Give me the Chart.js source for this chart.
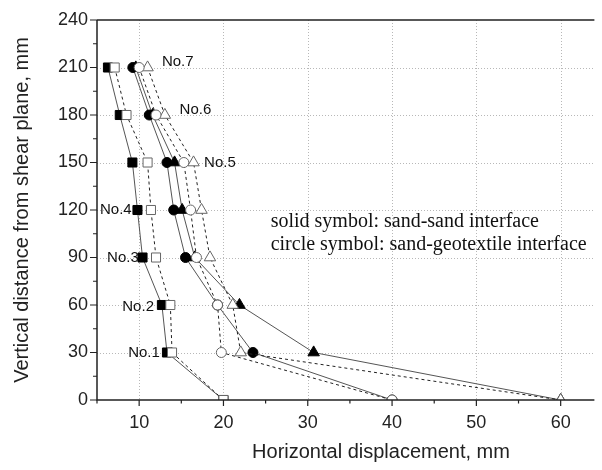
<!DOCTYPE html>
<html><head><meta charset="utf-8">
<script src="https://cdn.jsdelivr.net/npm/chart.js@4/dist/chart.umd.min.js"></script>
<style>html,body{margin:0;padding:0;background:#fff;}</style>
</head><body>
<canvas id="c" width="602" height="470"></canvas>
<script>
// ---- data ----
const yLevels = [210, 180, 150, 120, 90, 60, 30, 0];
const solidSquare   = [6.3, 7.7, 9.2, 9.8, 10.4, 12.7, 13.3, 20];
const openSquare    = [7.1, 8.5, 11.0, 11.4, 12.0, 13.7, 13.9, 20];
const solidCircle   = [9.25, 11.2, 13.3, 14.1, 15.5, 19.3, 23.5, 40];
const openCircle    = [10.0, 12.0, 15.3, 16.1, 16.8, 19.3, 19.75, 40];
const solidTriangle = [9.6, 11.6, 14.2, 15.1, 16.6, 21.9, 30.7, 60];
const openTriangle  = [11.0, 13.05, 16.45, 17.4, 18.4, 21.1, 22.05, 60];
const xTickLabels = [10, 20, 30, 40, 50, 60];
const yTickLabels = [0, 30, 60, 90, 120, 150, 180, 210, 240];
const xMinorTicks = [5, 15, 25, 35, 45, 55];
const yMinorTicks = [15, 45, 75, 105, 135, 165, 195, 225];
const specimenNames = ['No.1', 'No.2', 'No.3', 'No.4', 'No.5', 'No.6', 'No.7'];
const specimenLabelX = [8.7, 8.0, 6.2, 5.35, 17.7, 14.8, 12.7];
const specimenLabelY = [29.7, 59, 90, 120, 150, 183, 213.5];
const noteLines = ['solid symbol: sand-sand interface', 'circle symbol: sand-geotextile interface'];
const xTitle = 'Horizontal displacement, mm';
const yTitle = 'Vertical distance from shear plane, mm';

const toPts = arr => arr.map((v, i) => ({x: v, y: yLevels[i]}));

function series(vals, style, filled, dashed) {
  return {
    data: toPts(vals),
    showLine: true,
    tension: 0,
    fill: false,
    clip: 0,
    borderColor: dashed ? '#222' : '#555',
    borderWidth: 1,
    borderDash: dashed ? [3, 3] : [],
    pointStyle: style,
    pointRadius: style === 'rect' ? 6.4 : (style === 'triangle' ? 6.6 : 5),
    pointBackgroundColor: filled ? '#000' : '#fff',
    pointBorderColor: filled ? '#000' : '#666',
    pointBorderWidth: 1,
    pointHoverRadius: 0
  };
}

const SANS = '"Liberation Sans", Arial, sans-serif';
const SERIF = '"Liberation Serif", "Times New Roman", serif';

const framePlugin = {
  id: 'frame',
  beforeDatasetsDraw(chart) {
    const {ctx, chartArea: ca, scales: {x, y}} = chart;
    ctx.save();
    ctx.strokeStyle = '#b8b8b8';
    ctx.lineWidth = 1;
    ctx.setLineDash([1, 2]);
    xTickLabels.forEach(v => {
      const px = Math.round(x.getPixelForValue(v)) + 0.5;
      ctx.beginPath(); ctx.moveTo(px, ca.top); ctx.lineTo(px, ca.bottom); ctx.stroke();
    });
    yTickLabels.forEach(v => {
      if (v <= 0 || v >= 240) return;
      const py = Math.round(y.getPixelForValue(v)) + 0.5;
      ctx.beginPath(); ctx.moveTo(ca.left, py); ctx.lineTo(ca.right, py); ctx.stroke();
    });
    ctx.restore();
  },
  afterDatasetsDraw(chart) {
    const {ctx, chartArea: ca, scales: {x, y}} = chart;
    ctx.save();
    ctx.strokeStyle = '#222';
    ctx.lineWidth = 1.5;
    ctx.setLineDash([]);
    ctx.beginPath();
    ctx.moveTo(ca.left, ca.top); ctx.lineTo(ca.left, ca.bottom); ctx.lineTo(ca.right, ca.bottom);
    ctx.moveTo(ca.left, ca.top); ctx.lineTo(ca.right, ca.top);
    ctx.stroke();
    ctx.lineWidth = 1.2;
    ctx.beginPath();
    xTickLabels.forEach(v => { const px = x.getPixelForValue(v); ctx.moveTo(px, ca.bottom); ctx.lineTo(px, ca.bottom + 6); });
    xMinorTicks.forEach(v => { const px = x.getPixelForValue(v); ctx.moveTo(px, ca.bottom); ctx.lineTo(px, ca.bottom + 3.5); });
    yTickLabels.forEach(v => { const py = y.getPixelForValue(v); ctx.moveTo(ca.left, py); ctx.lineTo(ca.left - 7, py); });
    yMinorTicks.forEach(v => { const py = y.getPixelForValue(v); ctx.moveTo(ca.left, py); ctx.lineTo(ca.left - 4, py); });
    ctx.stroke();
    ctx.restore();
  },
  afterDraw(chart) {
    const {ctx, scales: {x, y}} = chart;
    ctx.save();
    ctx.fillStyle = '#111';
    ctx.textBaseline = 'middle';
    ctx.textAlign = 'left';
    ctx.font = '15px ' + SANS;
    specimenNames.forEach((t, i) => {
      ctx.fillText(t, x.getPixelForValue(specimenLabelX[i]), y.getPixelForValue(specimenLabelY[i]));
    });
    ctx.font = '20px ' + SERIF;
    ctx.fillText(noteLines[0], x.getPixelForValue(25.6), y.getPixelForValue(112.5));
    ctx.fillText(noteLines[1], x.getPixelForValue(25.6), y.getPixelForValue(98));
    ctx.fillStyle = '#222';
    ctx.textAlign = 'center';
    ctx.font = '20px ' + SANS;
    ctx.fillText(xTitle, 381, 452);
    ctx.restore();
  }
};

new Chart(document.getElementById('c'), {
  type: 'scatter',
  data: {
    datasets: [
      series(openSquare, 'rect', false, true),
      series(openCircle, 'circle', false, true),
      series(openTriangle, 'triangle', false, true),
      series(solidSquare, 'rect', true, false),
      series(solidCircle, 'circle', true, false),
      series(solidTriangle, 'triangle', true, false)
    ]
  },
  options: {
    responsive: false,
    animation: false,
    devicePixelRatio: 1,
    layout: {padding: {top: 20, right: 0, left: 0, bottom: 0}},
    plugins: {legend: {display: false}, tooltip: {enabled: false}},
    events: [],
    scales: {
      x: {
        type: 'linear', min: 5, max: 64,
        grid: {display: false, drawTicks: false},
        border: {display: false},
        ticks: {padding: 12, color: '#222', font: {family: SANS, size: 18}},
        afterBuildTicks: s => { s.ticks = xTickLabels.map(v => ({value: v})); },
        afterFit: s => { s.height = 70; }
      },
      y: {
        type: 'linear', min: 0, max: 240,
        grid: {display: false, drawTicks: false},
        border: {display: false},
        ticks: {padding: 9, color: '#222', font: {family: SANS, size: 18}},
        afterBuildTicks: s => { s.ticks = yTickLabels.map(v => ({value: v})); },
        afterFit: s => { s.width = 97; },
        title: {display: true, text: yTitle, color: '#222', font: {family: SANS, size: 20}, padding: {top: 10, bottom: 0}}
      }
    }
  },
  plugins: [framePlugin]
});
</script>
</body></html>
